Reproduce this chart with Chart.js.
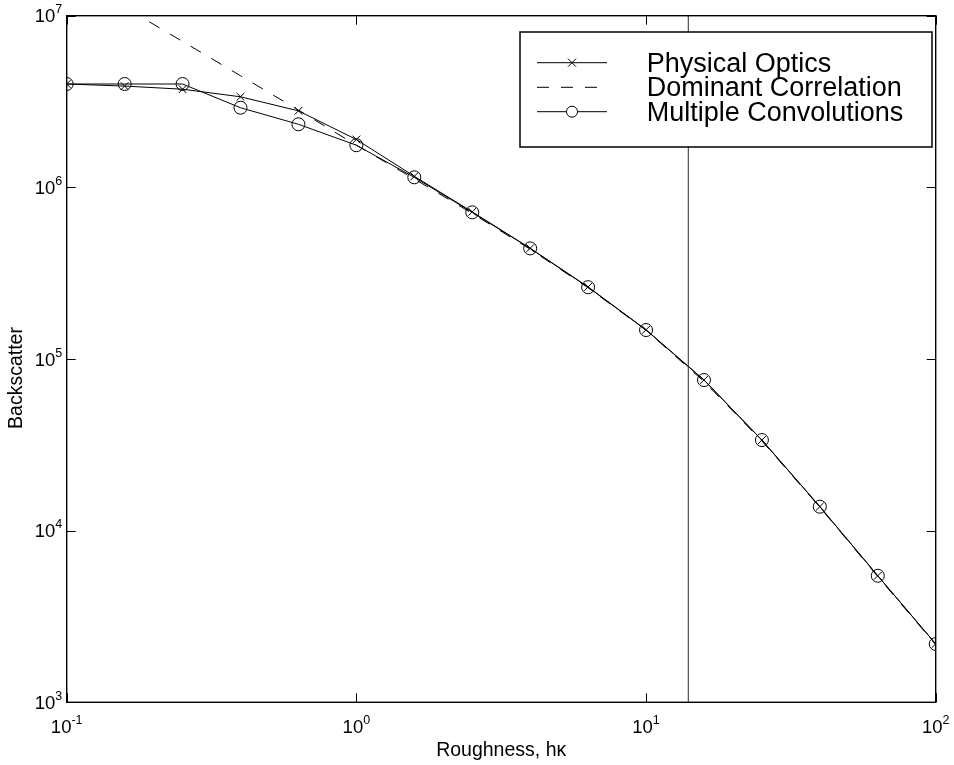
<!DOCTYPE html>
<html>
<head>
<meta charset="utf-8">
<script src="https://cdn.jsdelivr.net/npm/chart.js@4.4.1/dist/chart.umd.min.js"></script>
<style>
  html, body { margin: 0; padding: 0; background: #fff; }
  #wrap { width: 954px; height: 765px; position: relative; }
</style>
</head>
<body>
<div id="wrap"><canvas id="c" width="954" height="765"></canvas></div>
<script>
// ---- data ----
const roughness = [0.1, 0.1585, 0.2512, 0.3981, 0.631, 1, 1.585, 2.512, 3.981, 6.31, 10, 15.85, 25.12, 39.81, 63.1, 100];
const physicalOptics = [4.0e6, 3.89e6, 3.73e6, 3.37e6, 2.79e6, 1.90e6, 1.16e6, 7.2e5, 4.42e5, 2.63e5, 1.48e5, 7.55e4, 3.37e4, 1.38e4, 5.46e3, 2.19e3];
const dominantCorrelation = [1.78e7, 1.12e7, 7.08e6, 4.47e6, 2.82e6, 1.76e6, 1.12e6, 7.05e5, 4.36e5, 2.6e5, 1.47e5, 7.4e4, 3.33e4, 1.37e4, 5.4e3, 2.17e3];
const multipleConvolutions = [4.0e6, 4.0e6, 4.0e6, 2.91e6, 2.33e6, 1.76e6, 1.144e6, 7.15e5, 4.41e5, 2.62e5, 1.475e5, 7.54e4, 3.37e4, 1.379e4, 5.46e3, 2.186e3];
const markerLineX = [14, 14];
const markerLineY = [1e3, 1e7];
const xTicks = [0.1, 1, 10, 100];
const yTicks = [1e3, 1e4, 1e5, 1e6, 1e7];
const seriesNames = ['Physical Optics', 'Dominant Correlation', 'Multiple Convolutions'];
const xTitle = 'Roughness, hκ';
const yTitle = 'Backscatter';

const FONT = '"Liberation Sans", Arial, Helvetica, sans-serif';
function expOf(v) { return String(Math.round(Math.log10(v))); }
function pts(xs, ys) { return xs.map((x, i) => ({x: x, y: ys[i]})); }

const boxPlugin = {
  id: 'matlabBox',
  afterDraw(chart) {
    const {ctx, chartArea: a, scales} = chart;
    ctx.save();
    ctx.strokeStyle = '#000';
    ctx.lineWidth = 1;
    const tl = 9;
    ctx.beginPath();
    xTicks.forEach(v => {
      const px = Math.round(scales.x.getPixelForValue(v)) + 0.5;
      ctx.moveTo(px, a.bottom); ctx.lineTo(px, a.bottom - tl);
      ctx.moveTo(px, a.top); ctx.lineTo(px, a.top + tl);
    });
    yTicks.forEach(v => {
      const py = Math.round(scales.y.getPixelForValue(v)) + 0.5;
      ctx.moveTo(a.left, py); ctx.lineTo(a.left + tl, py);
      ctx.moveTo(a.right, py); ctx.lineTo(a.right - tl, py);
    });
    ctx.stroke();
    ctx.lineWidth = 1.4;
    ctx.strokeRect(a.left, a.top, a.right - a.left, a.bottom - a.top);

    // tick labels: 10 with raised exponent
    const baseFont = '18.5px ' + FONT, expFont = '12.5px ' + FONT;
    const raise = 9;
    ctx.fillStyle = '#000';
    ctx.textBaseline = 'alphabetic';
    ctx.textAlign = 'left';
    xTicks.forEach(v => {
      const px = scales.x.getPixelForValue(v);
      const e = expOf(v);
      ctx.font = baseFont; const wb = ctx.measureText('10').width;
      ctx.font = expFont; const we = ctx.measureText(e).width;
      const x0 = px - (wb + we) / 2;
      const by = a.bottom + 31;
      ctx.font = baseFont; ctx.fillText('10', x0, by);
      ctx.font = expFont; ctx.fillText(e, x0 + wb, by - raise);
    });
    yTicks.forEach(v => {
      const py = scales.y.getPixelForValue(v);
      const e = expOf(v);
      ctx.font = baseFont; const wb = ctx.measureText('10').width;
      ctx.font = expFont; const we = ctx.measureText(e).width;
      const xr = a.left - 4.5;
      const by = py + 6.5;
      ctx.font = expFont; ctx.fillText(e, xr - we, by - raise);
      ctx.font = baseFont; ctx.fillText('10', xr - we - wb, by);
    });

    // y axis title
    ctx.save();
    ctx.font = '19.5px ' + FONT;
    ctx.textAlign = 'center';
    ctx.textBaseline = 'middle';
    ctx.translate(17, 378);
    ctx.rotate(-Math.PI / 2);
    ctx.fillText(yTitle, 0, 0);
    ctx.restore();

    // legend
    const lx = 520, ly = 32, lw = 412, lh = 115;
    ctx.fillStyle = '#fff';
    ctx.fillRect(lx, ly, lw, lh);
    ctx.lineWidth = 1.5;
    ctx.strokeStyle = '#000';
    ctx.strokeRect(lx, ly, lw, lh);
    const rows = [62.7, 87.3, 111.7];
    ctx.font = '27px ' + FONT;
    ctx.textBaseline = 'alphabetic';
    ctx.textAlign = 'left';
    chart.data.datasets.slice(0, 3).forEach((ds, i) => {
      const y = rows[i];
      ctx.save();
      ctx.strokeStyle = '#000';
      ctx.lineWidth = 1;
      ctx.setLineDash(ds.borderDash || []);
      ctx.beginPath();
      ctx.moveTo(537, y); ctx.lineTo(607, y);
      ctx.stroke();
      ctx.setLineDash([]);
      if (ds.pointStyle === 'crossRot') {
        const r = 4;
        ctx.beginPath();
        ctx.moveTo(572 - r, y - r); ctx.lineTo(572 + r, y + r);
        ctx.moveTo(572 - r, y + r); ctx.lineTo(572 + r, y - r);
        ctx.stroke();
      } else if (ds.pointStyle === 'circle' && ds.pointRadius > 0) {
        ctx.fillStyle = '#fff';
        ctx.beginPath();
        ctx.arc(572, y, 5.5, 0, Math.PI * 2);
        ctx.fill();
        ctx.stroke();
      }
      ctx.restore();
      ctx.fillStyle = '#000';
      ctx.fillText(ds.label, 646.7, y + 9);
    });
    ctx.restore();
  }
};

new Chart(document.getElementById('c'), {
  type: 'scatter',
  data: {
    datasets: [
      {
        label: seriesNames[0],
        data: pts(roughness, physicalOptics),
        showLine: true,
        borderColor: '#000', borderWidth: 1,
        pointStyle: 'crossRot', pointRadius: 5.5, pointBorderColor: '#000', pointBorderWidth: 1,
        pointBackgroundColor: 'rgba(0,0,0,0)', tension: 0
      },
      {
        label: seriesNames[1],
        data: pts(roughness, dominantCorrelation),
        showLine: true,
        borderColor: '#000', borderWidth: 1, borderDash: [12, 12],
        pointStyle: 'circle', pointRadius: 0, tension: 0
      },
      {
        label: seriesNames[2],
        data: pts(roughness, multipleConvolutions),
        showLine: true,
        borderColor: '#000', borderWidth: 1,
        pointStyle: 'circle', pointRadius: 6.5, pointBorderColor: '#000', pointBorderWidth: 1,
        pointBackgroundColor: 'rgba(0,0,0,0)', tension: 0
      },
      {
        label: 'marker',
        data: pts(markerLineX, markerLineY),
        showLine: true,
        borderColor: '#5a5a5a', borderWidth: 1.3,
        pointRadius: 0, tension: 0
      }
    ]
  },
  options: {
    responsive: false,
    animation: false,
    events: [],
    layout: { padding: { left: 0, top: 15.7, right: 18.3, bottom: 0 } },
    plugins: { legend: { display: false }, tooltip: { enabled: false } },
    scales: {
      x: {
        type: 'logarithmic', min: 0.1, max: 100,
        afterBuildTicks: s => { s.ticks = xTicks.map(v => ({value: v})); },
        afterFit: s => { s.height = 62.7; },
        grid: { display: false, drawTicks: false },
        border: { display: false },
        ticks: { display: false },
        title: { display: true, text: xTitle, color: '#000', font: { family: FONT, size: 19.5 }, padding: { top: 0, bottom: 3 } }
      },
      y: {
        type: 'logarithmic', min: 1e3, max: 1e7,
        afterBuildTicks: s => { s.ticks = yTicks.map(v => ({value: v})); },
        afterFit: s => { s.width = 66.7; },
        grid: { display: false, drawTicks: false },
        border: { display: false },
        ticks: { display: false },
        title: { display: false }
      }
    }
  },
  plugins: [boxPlugin]
});
</script>
</body>
</html>
